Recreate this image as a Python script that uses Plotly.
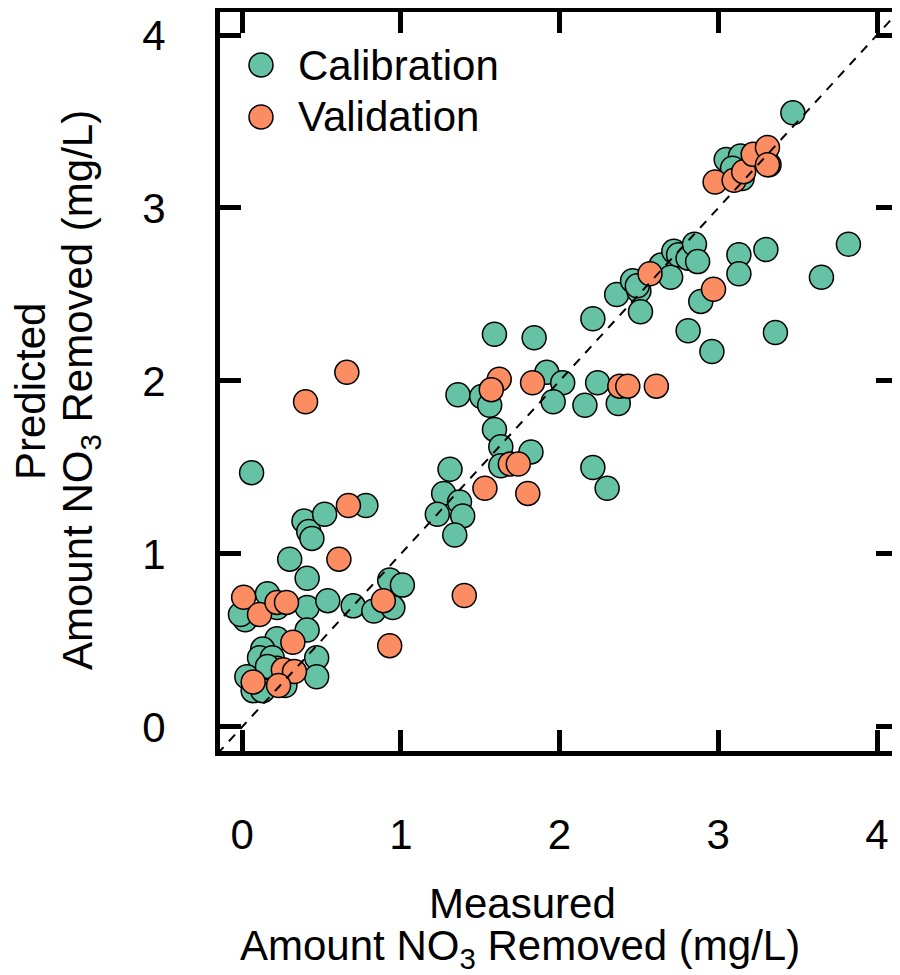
import plotly.graph_objects as go

# Calibration set (measured, predicted) in mg/L
cal_measured = [3.47, 3.05, 3.14, 3.09, 3.15, 3.32,
                2.21, 2.36, 2.46, 2.50, 2.51, 2.49, 2.64, 2.70, 2.72, 2.75, 2.81, 2.85, 2.87,
                2.81, 2.89, 2.96, 3.13, 3.13, 3.30, 3.36, 3.65, 3.82,
                1.59, 1.84, 1.92, 2.02, 1.96, 2.24, 2.16, 2.37, 2.21, 2.30,
                1.36, 1.51, 1.56, 1.59, 1.63, 1.63, 1.82,
                1.31, 1.27, 1.37, 1.23, 1.39, 1.34,
                0.06, 0.39, 0.42, 0.44, 0.52, 0.78, 0.30, 0.41,
                0.16, 0.02, -0.01, 0.22, 0.41, 0.54, 0.70, 0.83, 0.93, 1.01, 0.95,
                0.41, 0.22, 0.13, 0.11, 0.47, 0.47, 0.03, 0.07, 0.13, 0.19, 0.22, 0.27, 0.16]
cal_predicted = [3.55, 3.28, 3.30, 3.23, 3.17, 3.25,
                 2.36, 2.50, 2.58, 2.52, 2.40, 2.55, 2.67, 2.60, 2.75, 2.73, 2.71, 2.79, 2.69,
                 2.29, 2.46, 2.17, 2.73, 2.62, 2.76, 2.28, 2.60, 2.79,
                 2.27, 2.25, 2.05, 1.99, 1.88, 1.99, 1.86, 1.87, 1.50, 1.38,
                 1.92, 1.91, 1.86, 1.72, 1.62, 1.51, 1.59,
                 1.49, 1.35, 1.30, 1.23, 1.22, 1.11,
                 1.47, 1.19, 1.13, 1.09, 1.23, 1.28, 0.97, 0.86,
                 0.77, 0.62, 0.65, 0.69, 0.69, 0.73, 0.70, 0.67, 0.85, 0.82, 0.69,
                 0.56, 0.51, 0.45, 0.40, 0.40, 0.29, 0.29, 0.21, 0.21, 0.40, 0.34, 0.24, 0.35]

# Validation set
val_measured = [2.98, 3.10, 3.16, 3.22, 3.31, 3.31,
                2.57, 2.97,
                1.62, 1.57, 1.83, 2.38, 2.43, 2.61,
                1.69, 1.74, 1.53, 1.80, 1.40,
                0.40, 0.66, 0.67, 0.61,
                0.01, 0.11, 0.22, 0.28, 0.89, 0.93,
                0.32, 0.26, 0.33, 0.23, 0.07]
val_predicted = [3.15, 3.16, 3.21, 3.31, 3.35, 3.25,
                 2.62, 2.53,
                 2.01, 1.95, 1.99, 1.97, 1.97, 1.97,
                 1.52, 1.52, 1.38, 1.35, 0.76,
                 1.88, 2.05, 1.28, 0.97,
                 0.75, 0.65, 0.72, 0.72, 0.73, 0.47,
                 0.49, 0.33, 0.32, 0.24, 0.26]

x_ticks = [0, 1, 2, 3, 4]
y_ticks = [0, 1, 2, 3, 4]
legend_names = ["Calibration", "Validation"]
colors = ["#66c2a5", "#fc8d62"]
one_to_one = [-0.3, 4.4]

FONT = "Liberation Sans, Arial, Helvetica, sans-serif"
FS = 42

fig = go.Figure()
for name, xs, ys, col in [(legend_names[0], cal_measured, cal_predicted, colors[0]),
                          (legend_names[1], val_measured, val_predicted, colors[1])]:
    fig.add_trace(go.Scatter(x=xs, y=ys, mode="markers", name=name, showlegend=False,
                             marker=dict(size=24, color=col, line=dict(color="black", width=1.5))))

fig.add_trace(go.Scatter(x=one_to_one, y=one_to_one, mode="lines", showlegend=False,
                         line=dict(color="black", width=2, dash="9px,8px")))

OFF = 8  # page body margin
L, R, T, B = 212, 3, 4, 224
W, H = 892, 967
pw, ph = W - L - R, H - T - B

def px_x(p):
    return (p - OFF - L) / pw

def px_y(p):
    return (H - B - (p - OFF)) / ph

axis_common = dict(showline=True, linecolor="black", linewidth=5, mirror="ticks",
                   ticks="inside", ticklen=21, tickwidth=5, tickcolor="black",
                   showgrid=False, zeroline=False,
                   tickfont=dict(family=FONT, size=FS, color="black"))

fig.update_xaxes(range=[-0.139, 4.126], tickvals=x_ticks, ticktext=[str(t) for t in x_ticks],
                 ticklabelstandoff=43, **axis_common)
fig.update_yaxes(range=[-0.139, 4.133], tickvals=y_ticks, ticktext=[str(t) for t in y_ticks],
                 ticklabelstandoff=41, **axis_common)

# custom legend
for i, (name, col) in enumerate(zip(legend_names, colors)):
    yc = 65 + 52 * i
    fig.add_shape(type="circle", xref="paper", yref="paper", xsizemode="pixel", ysizemode="pixel",
                  xanchor=px_x(261), yanchor=px_y(yc), x0=-12, x1=12, y0=-12, y1=12,
                  fillcolor=col, line=dict(color="black", width=1.5))
    fig.add_annotation(text=name, xref="paper", yref="paper", x=px_x(296), y=px_y(yc),
                       xanchor="left", yanchor="middle", showarrow=False,
                       font=dict(family=FONT, size=FS, color="black"))

# axis titles
fig.add_annotation(text="Measured", xref="paper", yref="paper", x=px_x(522), y=px_y(903),
                   xanchor="center", yanchor="middle", showarrow=False,
                   font=dict(family=FONT, size=FS, color="black"))
fig.add_annotation(text="Amount NO<sub>3</sub> Removed (mg/L)", xref="paper", yref="paper",
                   x=px_x(520), y=px_y(948), xanchor="center", yanchor="middle", showarrow=False,
                   font=dict(family=FONT, size=FS, color="black"))
fig.add_annotation(text="Predicted", xref="paper", yref="paper", x=px_x(30), y=px_y(392),
                   xanchor="center", yanchor="middle", showarrow=False, textangle=-90,
                   font=dict(family=FONT, size=FS, color="black"))
fig.add_annotation(text="Amount NO<sub>3</sub> Removed (mg/L)", xref="paper", yref="paper",
                   x=px_x(80), y=px_y(390), xanchor="center", yanchor="middle", showarrow=False,
                   textangle=-90, font=dict(family=FONT, size=FS, color="black"))

fig.update_layout(width=W, height=H, margin=dict(l=L, r=R, t=T, b=B, autoexpand=False),
                  paper_bgcolor="white", plot_bgcolor="white", showlegend=False,
                  font=dict(family=FONT, size=FS, color="black"))

fig.write_html("out.html")
